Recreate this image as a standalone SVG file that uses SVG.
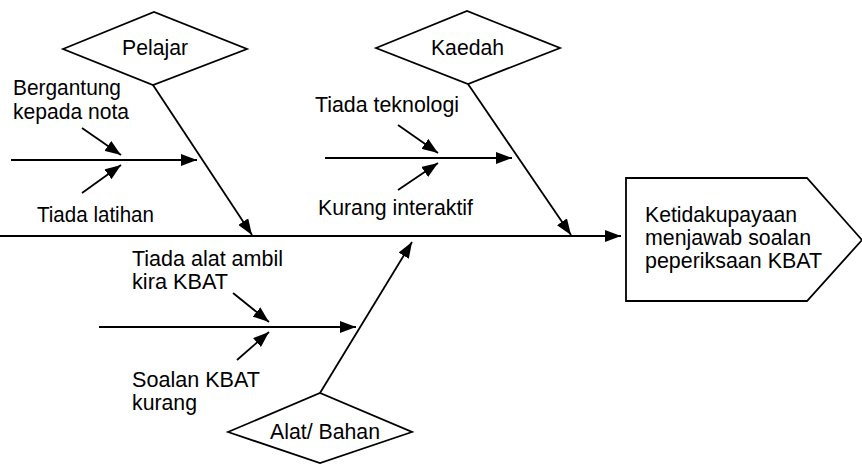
<svg xmlns="http://www.w3.org/2000/svg" width="862" height="465" viewBox="0 0 862 465">
<defs>
<marker id="ah" markerUnits="userSpaceOnUse" markerWidth="17" markerHeight="12" refX="16" refY="6" orient="auto">
<path d="M0,0 L16,6 L0,12 z" fill="#000"/>
</marker>
<style>
text{font-family:"Liberation Sans",Arial,sans-serif;font-size:22.5px;fill:#000}
.shape{fill:#fff;stroke:#000;stroke-width:1.8}
.ln{stroke:#000;stroke-width:1.8;fill:none;marker-end:url(#ah)}
.sp{stroke:#000;stroke-width:2;fill:none;marker-end:url(#ah)}
</style>
</defs>
<rect width="862" height="465" fill="#fff"/>
<g id="connectors">
<line class="sp" x1="0" y1="236" x2="621" y2="236"/>
<line class="ln" x1="153" y1="85" x2="252" y2="235"/>
<line class="ln" x1="468" y1="84" x2="571" y2="235"/>
<line class="ln" x1="320" y1="393" x2="412" y2="242"/>
<line class="ln" x1="11" y1="160" x2="197" y2="160"/>
<line class="ln" x1="82" y1="128" x2="121" y2="155"/>
<line class="ln" x1="82" y1="193" x2="121" y2="165"/>
<line class="ln" x1="325" y1="158" x2="512" y2="158"/>
<line class="ln" x1="398" y1="125" x2="438" y2="153"/>
<line class="ln" x1="398" y1="190" x2="438" y2="163"/>
<line class="ln" x1="99" y1="327" x2="356" y2="327"/>
<line class="ln" x1="233" y1="293" x2="269" y2="322"/>
<line class="ln" x1="237" y1="360" x2="269" y2="332"/>
</g>
<g id="pelajar">
<polygon class="shape" points="63,49 154,12 247,49 153,85"/>
<text x="122" y="55" textLength="66" lengthAdjust="spacingAndGlyphs">Pelajar</text>
</g>
<g id="kaedah">
<polygon class="shape" points="376,48 467,11 560,48 468,84"/>
<text x="431" y="55" textLength="73" lengthAdjust="spacingAndGlyphs">Kaedah</text>
</g>
<g id="alat">
<polygon class="shape" points="228,432 320,393 412,432 320,463"/>
<text x="270" y="439" textLength="110" lengthAdjust="spacingAndGlyphs">Alat/ Bahan</text>
</g>
<g id="result">
<polygon class="shape" points="626,178 807,178 862,240 807,301 626,301"/>
<text x="645" y="222" textLength="152" lengthAdjust="spacingAndGlyphs">Ketidakupayaan</text>
<text x="645" y="245" textLength="166" lengthAdjust="spacingAndGlyphs">menjawab soalan</text>
<text x="645" y="268" textLength="177" lengthAdjust="spacingAndGlyphs">peperiksaan KBAT</text>
</g>
<g id="labels">
<text x="13" y="95" textLength="108" lengthAdjust="spacingAndGlyphs">Bergantung</text>
<text x="13" y="119" textLength="116" lengthAdjust="spacingAndGlyphs">kepada nota</text>
<text x="37" y="222" textLength="117" lengthAdjust="spacingAndGlyphs">Tiada latihan</text>
<text x="315" y="112" textLength="144" lengthAdjust="spacingAndGlyphs">Tiada teknologi</text>
<text x="318" y="215" textLength="155" lengthAdjust="spacingAndGlyphs">Kurang interaktif</text>
<text x="132" y="266" textLength="151" lengthAdjust="spacingAndGlyphs">Tiada alat ambil</text>
<text x="132" y="289" textLength="96" lengthAdjust="spacingAndGlyphs">kira KBAT</text>
<text x="132" y="387" textLength="128" lengthAdjust="spacingAndGlyphs">Soalan KBAT</text>
<text x="132" y="410" textLength="65" lengthAdjust="spacingAndGlyphs">kurang</text>
</g>
</svg>
